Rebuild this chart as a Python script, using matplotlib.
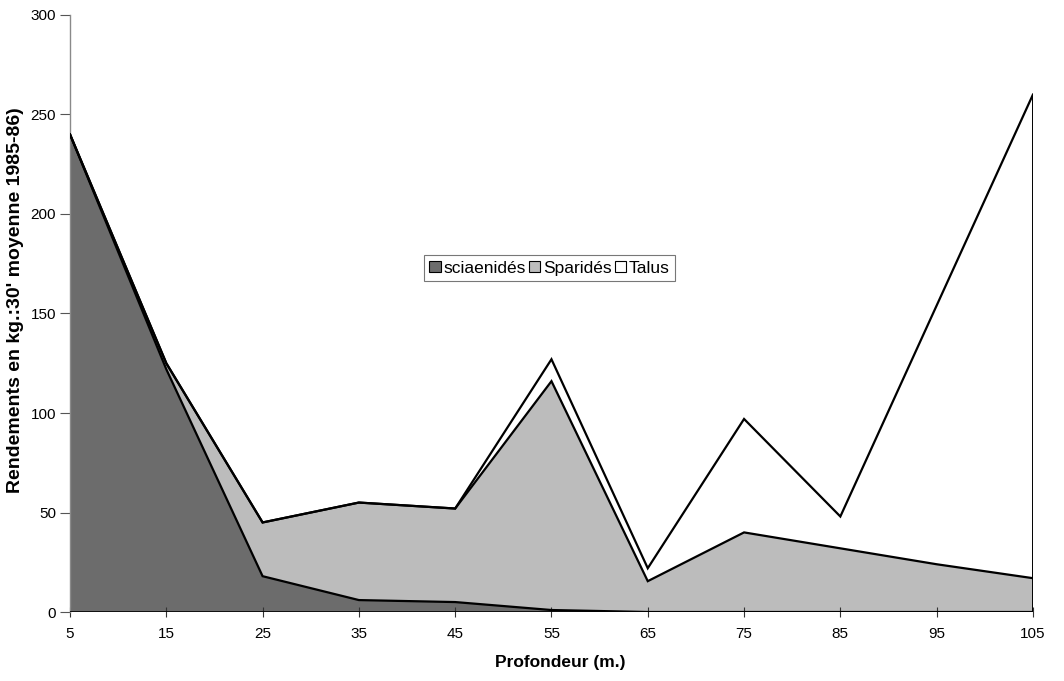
import numpy as np
import matplotlib
matplotlib.use("Agg")
import matplotlib.pyplot as plt
from matplotlib.patches import Patch

plt.rcParams['font.family'] = ['Liberation Sans', 'DejaVu Sans']

# Depth classes (m) and mean yields per 30-minute haul (kg)
depths = [5, 15, 25, 35, 45, 55, 65, 75, 85, 95, 105]
sciaenides = [240, 122, 18, 6, 5, 1, 0, 0, 0, 0, 0]
sparides = [0, 3, 27, 49, 47, 115, 15.5, 40, 32, 24, 17]
talus = [0, 0, 0, 0, 0, 11, 6.5, 57, 16, 130, 243]

series_names = ['sciaenidés', 'Sparidés', 'Talus']
series_colors = ['#6c6c6c', '#bcbcbc', '#ffffff']
y_ticks = [0, 50, 100, 150, 200, 250, 300]

x = np.array(depths, dtype=float)
layers = [np.array(s, dtype=float) for s in (sciaenides, sparides, talus)]

fig = plt.figure(figsize=(10.64, 6.81), dpi=100)
ax = fig.add_axes([0.0658, 0.1013, 0.905, 0.8767])

base = np.zeros_like(x)
tops = []
for vals, color in zip(layers, series_colors):
    top = base + vals
    ax.fill_between(x, base, top, facecolor=color, edgecolor='none', zorder=1)
    tops.append(top)
    base = top

for top in tops:
    ax.plot(x, top, color='black', lw=1.6, zorder=3, solid_joinstyle='miter')
# right-hand edge of the stacked area
ax.vlines(x[-1], 0, tops[-1][-1], color='black', lw=1.4, zorder=3)
ax.axhline(0, color='black', lw=1.2, zorder=4)

ax.set_xlim(5, 105)
ax.set_ylim(0, 300)
ax.set_xticks(depths)
ax.set_xticklabels([str(d) for d in depths])
ax.set_yticks(y_ticks)

for side in ('top', 'right'):
    ax.spines[side].set_visible(False)
ax.spines['left'].set_color('#8a8a8a')
ax.spines['left'].set_linewidth(1.0)
ax.spines['bottom'].set_visible(False)

ax.tick_params(axis='y', direction='out', length=7, width=0.8, color='#555555',
               labelsize=11, pad=3)
ax.tick_params(axis='x', direction='inout', length=7, width=0.8, color='#333333',
               labelsize=11, pad=7)

ax.set_xlabel('Profondeur (m.)', fontsize=12.5, fontweight='bold')
ax.xaxis.set_label_coords(0.509, -0.072)
ax.set_ylabel("Rendements en kg.:30' moyenne 1985-86)", fontsize=14,
              fontweight='bold')
ax.yaxis.set_label_coords(-0.048, 0.523)

handles = [Patch(facecolor=c, edgecolor='black', lw=0.8) for c in series_colors]
leg = ax.legend(handles, series_names, loc='center', bbox_to_anchor=(0.498, 0.576),
                ncol=3, frameon=True, fancybox=False, fontsize=12.5,
                handlelength=0.65, handleheight=0.65, handletextpad=0.15,
                columnspacing=0.2, borderpad=0.3, borderaxespad=0)
leg.get_frame().set_edgecolor('#555555')
leg.get_frame().set_linewidth(0.8)

fig.savefig('out.png', dpi=100, facecolor='white')
